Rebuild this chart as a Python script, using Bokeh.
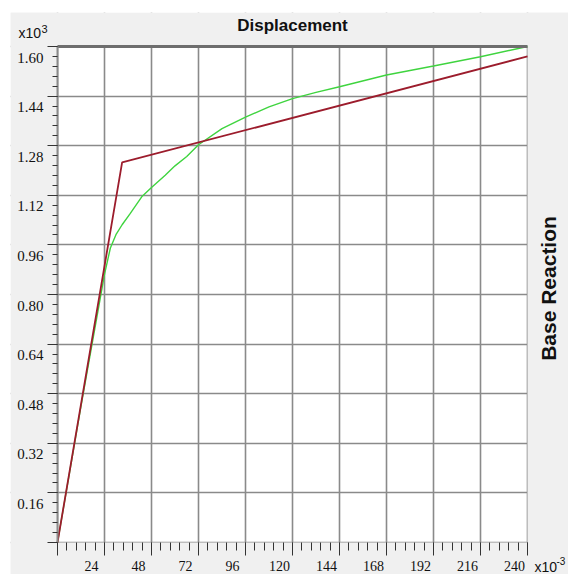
import math
from bokeh.plotting import figure
from bokeh.layouts import column, row
from bokeh.models import (ColumnDataSource, LabelSet, Label, LinearAxis, Spacer,
                          SingleIntervalTicker, Range1d, CustomJSTickFormatter,
                          BoxAnnotation)
from bokeh.embed import file_html
from bokeh.resources import INLINE

# ---- data (displacement x10^-3, base reaction x10^3) ----
disp_bilinear = [0, 33, 240]
react_bilinear = [0, 1.226, 1.568]

disp_curve = [0, 12, 24, 27, 30, 33, 37, 43, 48, 55, 60, 66, 72, 84, 96, 108,
              120, 132, 144, 168, 192, 216, 240]
react_curve = [0, 0.44, 0.865, 0.95, 0.995, 1.025, 1.06, 1.115, 1.145, 1.185,
               1.215, 1.245, 1.283, 1.335, 1.372, 1.405, 1.432, 1.452, 1.47,
               1.508, 1.537, 1.567, 1.60]

x_ticks = [24, 48, 72, 96, 120, 144, 168, 192, 216, 240]
x_tick_labels = ["24", "48", "72", "96", "120", "144", "168", "192", "216", "240"]
y_ticks = [0.16, 0.32, 0.48, 0.64, 0.80, 0.96, 1.12, 1.28, 1.44, 1.60]
y_tick_labels = ["0.16", "0.32", "0.48", "0.64", "0.80", "0.96", "1.12", "1.28", "1.44", "1.60"]

X_MIN, X_MAX = 0, 240
Y_MIN, Y_MAX = 0, 1.6

FONT = "Liberation Sans"
PANEL = "#f0f0f0"

# frame spans whole canvas; plot box at px 47..517 (x) and 32..528 (y from bottom)
W, H = 558, 562
L, R, B, T = 47, 517, 32, 528
sx = (R - L) / (X_MAX - X_MIN)
sy = (T - B) / (Y_MAX - Y_MIN)
p = figure(width=W, height=H, output_backend="svg", toolbar_location=None,
           x_range=Range1d(X_MIN - L / sx, X_MAX + (W - R) / sx),
           y_range=Range1d(Y_MIN - B / sy, Y_MAX + (H - T) / sy),
           min_border=0)
p.axis.visible = False
p.left = []
p.below = []
p.background_fill_color = "white"
p.border_fill_color = PANEL
p.outline_line_color = None

empty = CustomJSTickFormatter(code="return ''")
xt = SingleIntervalTicker(interval=24, num_minor_ticks=5)
yt = SingleIntervalTicker(interval=0.16, num_minor_ticks=5)

p.xgrid.ticker = xt
p.ygrid.ticker = yt
p.grid.grid_line_color = "#8a8a8a"
p.grid.grid_line_width = 1.6

# grey panel around the plotting box (covers grid lines outside it)
masks = [
    BoxAnnotation(right=X_MIN, fill_color=PANEL, fill_alpha=1, line_color=None, level="underlay"),
    BoxAnnotation(left=X_MAX, fill_color=PANEL, fill_alpha=1, line_color=None, level="underlay"),
    BoxAnnotation(top=Y_MIN, fill_color=PANEL, fill_alpha=1, line_color=None, level="underlay"),
    BoxAnnotation(bottom=Y_MAX, fill_color=PANEL, fill_alpha=1, line_color=None, level="underlay"),
]
p.center = list(p.center) + masks

xaxis = LinearAxis(ticker=xt, formatter=empty, fixed_location=Y_MIN,
                   bounds=(X_MIN, X_MAX), axis_line_color=None,
                   major_tick_in=0, major_tick_out=13, minor_tick_in=0,
                   minor_tick_out=8, major_tick_line_color="#333333",
                   minor_tick_line_color="#333333", major_label_standoff=0)
p.add_layout(xaxis, "below")

yaxis = LinearAxis(ticker=yt, formatter=empty, fixed_location=X_MIN,
                   bounds=(Y_MIN, Y_MAX), axis_line_color="#8a8a8a",
                   axis_line_width=2, major_tick_in=0, major_tick_out=10,
                   minor_tick_in=0, minor_tick_out=5,
                   major_tick_line_color="#333333",
                   minor_tick_line_color="#333333", major_label_standoff=0)
p.add_layout(yaxis, "left")

topaxis = LinearAxis(ticker=xt, formatter=empty, fixed_location=Y_MAX,
                     bounds=(X_MIN, X_MAX), axis_line_color="#6e6e6e",
                     axis_line_width=3, major_tick_in=0, major_tick_out=0,
                     minor_tick_in=0, minor_tick_out=0, major_label_standoff=0)
p.add_layout(topaxis, "above")

p.line(disp_curve, react_curve, line_color="#3fd43f", line_width=1.4)
p.line(disp_bilinear, react_bilinear, line_color="#9c1c2c", line_width=1.8)

xsrc = ColumnDataSource(dict(x=x_ticks, y=[Y_MIN] * len(x_ticks), t=x_tick_labels))
p.add_layout(LabelSet(x="x", y="y", text="t", source=xsrc, x_offset=-13,
                      y_offset=-23, text_align="center", text_baseline="middle",
                      text_font=FONT, text_font_size="14px",
                      text_color="#111111"))
ysrc = ColumnDataSource(dict(x=[X_MIN] * len(y_ticks), y=y_ticks, t=y_tick_labels))
p.add_layout(LabelSet(x="x", y="y", text="t", source=ysrc, x_offset=-14,
                      y_offset=-11, text_align="right", text_baseline="middle",
                      text_font=FONT, text_font_size="15px",
                      text_color="#111111"))

def lab(text, x, y, dx, dy, size, bold=False, angle=0, align="left"):
    p.add_layout(Label(x=x, y=y, x_offset=dx, y_offset=dy, text=text,
                       angle=angle, text_align=align, text_baseline="middle",
                       text_font=FONT, text_font_size=size,
                       text_font_style="bold" if bold else "normal",
                       text_color="#111111"))

lab("Displacement", (X_MIN + X_MAX) / 2, Y_MAX, 0, 21, "17px", bold=True, align="center")
lab("x10", X_MIN, Y_MAX, -39, 14, "14px")
lab("3", X_MIN, Y_MAX, -16, 18, "11px")
lab("x10", X_MAX, Y_MIN, 7, -24, "14px")
lab("-3", X_MAX, Y_MIN, 29, -18, "10px")
lab("Base Reaction", X_MAX, (Y_MIN + Y_MAX) / 2, 21, 6, "21px", bold=True,
    angle=math.pi / 2, align="center")

layout = column(Spacer(height=12, width=568),
                row(Spacer(width=10, height=562), p))
open("out.html", "w").write(file_html(layout, INLINE))
